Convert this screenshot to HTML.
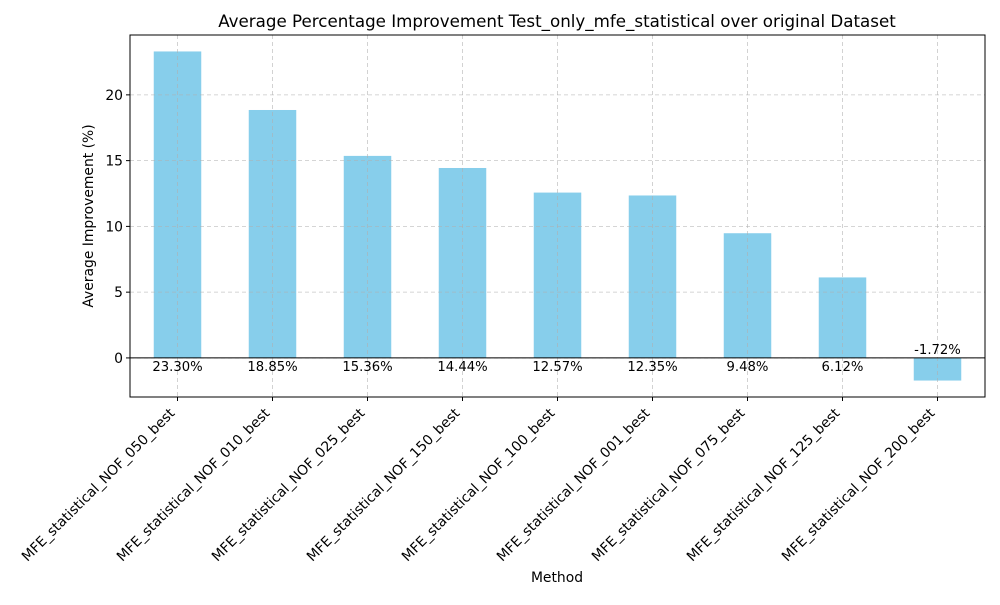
<!DOCTYPE html>
<html><head><meta charset="utf-8"><style>
body{margin:0;background:#fff;font-family:"Liberation Sans","DejaVu Sans",sans-serif;}
</style></head><body>
<svg id="chart" width="1000" height="600" xmlns="http://www.w3.org/2000/svg" font-family="DejaVu Sans, Liberation Sans, sans-serif">
<rect width="1000" height="600" fill="#fff"/>
<text x="557" y="27" font-size="16.7" text-anchor="middle" fill="#000">Average Percentage Improvement Test_only_mfe_statistical over original Dataset</text>
<text x="557" y="582" font-size="13.9" text-anchor="middle">Method</text>
<text transform="translate(93,216) rotate(-90)" font-size="13.9" text-anchor="middle">Average Improvement (%)</text>
<g id="bars"></g><g id="grid"></g><g id="labels"></g><g id="ticks"></g>
<rect x="130" y="35" width="855" height="362" fill="none" stroke="#000" stroke-width="1"/>
</svg>
<script>
const categories=["MFE_statistical_NOF_050_best","MFE_statistical_NOF_010_best","MFE_statistical_NOF_025_best","MFE_statistical_NOF_150_best","MFE_statistical_NOF_100_best","MFE_statistical_NOF_001_best","MFE_statistical_NOF_075_best","MFE_statistical_NOF_125_best","MFE_statistical_NOF_200_best"];
const values=[23.30,18.85,15.36,14.44,12.57,12.35,9.48,6.12,-1.72];
const yTicks=[0,5,10,15,20];
const L=130,R=985,T=35,B=397;
const mn=Math.min(0,...values),mx=Math.max(0,...values),pad=(mx-mn)*0.05;
const y0=mn-pad,y1=mx+pad;
const ys=v=>B-(v-y0)/(y1-y0)*(B-T);
const step=(R-L)/categories.length;
const xs=i=>L+step*(i+0.5);
const NS="http://www.w3.org/2000/svg";
function mk(p,t,a){const e=document.createElementNS(NS,t);for(const k in a)e.setAttribute(k,a[k]);document.getElementById(p).appendChild(e);return e;}
categories.forEach((c,i)=>{
 const v=values[i],bw=step*0.5;
 const r=mk('bars','rect',{x:xs(i)-bw/2,y:Math.min(ys(v),ys(0)),width:bw,height:Math.abs(ys(v)-ys(0)),fill:'#87ceeb'});
 
 
 const g=mk('grid','line',{x1:xs(i),x2:xs(i),y1:T,y2:B,stroke:'#b0b0b0','stroke-dasharray':'4,3','stroke-width':0.8,opacity:0.7});
 
 
 const lt=mk('labels','text',{x:xs(i),y:v>=0?ys(0)+13:ys(0)-4,'font-size':13.2,'text-anchor':'middle'});
 lt.textContent=v.toFixed(2)+'%';
 
 
 const tk=mk('ticks','line',{x1:xs(i),x2:xs(i),y1:B,y2:B+4,stroke:'#000'});
 
 
 const tl=mk('ticks','text',{transform:`translate(${xs(i)-2},${B+17}) rotate(-45)`,'font-size':13.9,'text-anchor':'end'});
 tl.textContent=c;
 
 
});
yTicks.forEach(t=>{
 const g=mk('grid','line',{x1:L,x2:R,y1:ys(t),y2:ys(t),stroke:'#b0b0b0','stroke-dasharray':'4,3','stroke-width':0.8,opacity:0.7});
 
 
 const tk=mk('ticks','line',{x1:L-4,x2:L,y1:ys(t),y2:ys(t),stroke:'#000'});
 
 
 const tl=mk('ticks','text',{x:L-7,y:ys(t)+5,'font-size':13.9,'text-anchor':'end'});
 tl.textContent=t;
 
 
});
const z=mk('labels','line',{x1:L,x2:R,y1:ys(0),y2:ys(0),stroke:'#000','stroke-width':1});


</script>
</body></html>
